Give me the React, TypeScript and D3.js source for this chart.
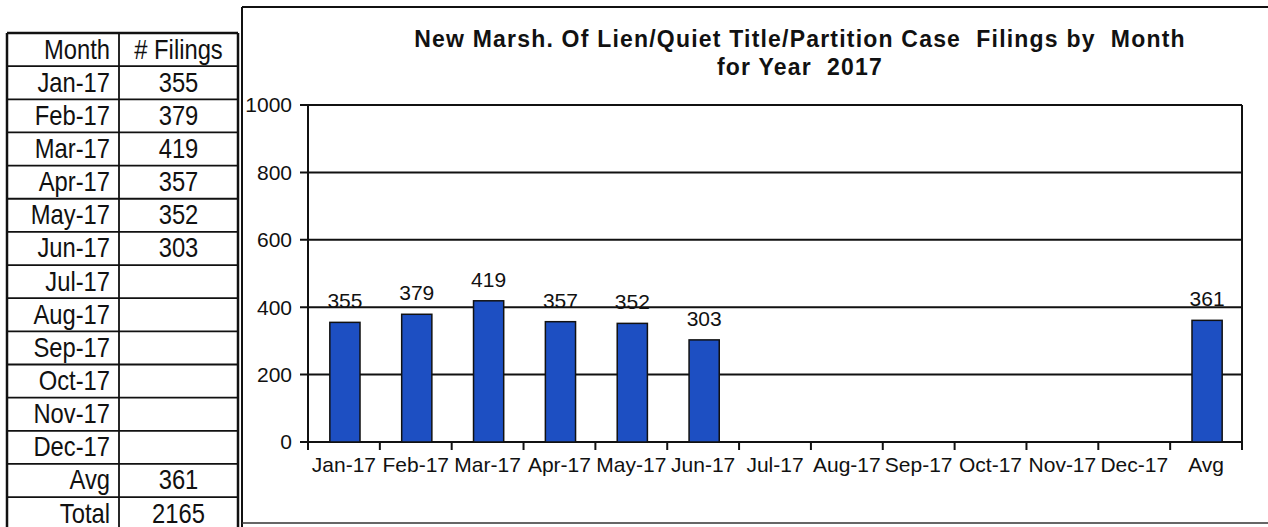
import React from "react";
import * as d3 from "d3";

// table + chart data
const months = ["Jan-17", "Feb-17", "Mar-17", "Apr-17", "May-17", "Jun-17", "Jul-17", "Aug-17", "Sep-17", "Oct-17", "Nov-17", "Dec-17"];
const filings: (number | null)[] = [355, 379, 419, 357, 352, 303, null, null, null, null, null, null];
const avgLabel = "Avg";
const avgValue = 361;
const totalLabel = "Total";
const totalValue = 2165;
const yTicks = [0, 200, 400, 600, 800, 1000];
const titleLines = ["New Marsh. Of Lien/Quiet Title/Partition Case  Filings by  Month", "for Year  2017"];

const W = 1268;
const H = 527;
const FONT = "'Liberation Sans', Arial, sans-serif";
const BAR = "#1d4fc2";

// narrow text (the scan is squeezed a bit horizontally in the table)
const SqText = ({ x, y, anchor, children }: { x: number; y: number; anchor: string; children: React.ReactNode }) => (
  <text transform={`translate(${x},${y}) scale(0.88,1)`} fontSize={27} textAnchor={anchor} fill="#111">
    {children}
  </text>
);

const App = () => {
  const categories = [...months, avgLabel];
  const values = [...filings, avgValue];

  const plot = { left: 308, right: 1242, top: 105, bottom: 442 };

  const x = d3.scaleBand<string>().domain(categories).range([plot.left, plot.right]).padding(0);
  const y = d3.scaleLinear().domain([0, 1000]).range([plot.bottom, plot.top]);
  const barW = x.bandwidth() * 0.42;

  // table layout
  const tableRows = [
    { m: "Month", v: "# Filings" },
    ...months.map((m, i) => ({ m, v: filings[i] == null ? "" : String(filings[i]) })),
    { m: avgLabel, v: String(avgValue) },
    { m: totalLabel, v: String(totalValue) },
  ];
  const rowY = d3.scaleLinear().domain([0, 1]).range([33, 66.15]);
  const tLeft = 7, tMid = 119, tRight = 238;

  return (
    <svg width={W} height={H} style={{ position: "absolute", left: 0, top: 0, background: "#fff" }} fontFamily={FONT}>
      <rect x={0} y={0} width={W} height={H} fill="#fff" />

      {/* table */}
      <g>
        {tableRows.map((r, i) => (
          <g key={i}>
            <line x1={tLeft} x2={tRight} y1={rowY(i)} y2={rowY(i)} stroke="#111" strokeWidth={i === 0 ? 2.5 : 1.8} />
            <SqText x={110} y={rowY(i) + 25.5} anchor="end">{r.m}</SqText>
            <SqText x={(tMid + tRight) / 2} y={rowY(i) + 25.5} anchor="middle">{r.v}</SqText>
          </g>
        ))}
        <line x1={tLeft} x2={tLeft} y1={rowY(0)} y2={H} stroke="#111" strokeWidth={2.5} />
        <line x1={tMid} x2={tMid} y1={rowY(0)} y2={H} stroke="#111" strokeWidth={1.8} />
        <line x1={tRight} x2={tRight} y1={rowY(0)} y2={H} stroke="#111" strokeWidth={2.5} />
      </g>

      {/* chart frame */}
      <line x1={242} x2={W} y1={7} y2={7} stroke="#111" strokeWidth={2} />
      <line x1={242} x2={242} y1={7} y2={H} stroke="#111" strokeWidth={2} />
      <line x1={242} x2={W} y1={523} y2={523} stroke="#333" strokeWidth={1.5} />

      {/* title */}
      {titleLines.map((t, i) => (
        <text
          key={i}
          x={800}
          y={47 + i * 28}
          fontSize={23}
          fontWeight="bold"
          letterSpacing={1.2}
          textAnchor="middle"
          fill="#111"
          style={{ whiteSpace: "pre" }}
        >
          {t}
        </text>
      ))}

      {/* gridlines + y axis */}
      {yTicks.map((t) => (
        <g key={t}>
          <line x1={plot.left - 8} x2={plot.right} y1={y(t)} y2={y(t)} stroke="#111" strokeWidth={2} />
          <text x={292} y={y(t)} dy="0.35em" fontSize={21} textAnchor="end" fill="#111">{t}</text>
        </g>
      ))}
      <line x1={plot.left} x2={plot.left} y1={plot.top} y2={plot.bottom + 8} stroke="#111" strokeWidth={2} />
      <line x1={plot.right} x2={plot.right} y1={plot.top} y2={plot.bottom + 8} stroke="#111" strokeWidth={2} />

      {/* x ticks */}
      {categories.map((c) => (
        <g key={c}>
          <line x1={x(c)!} x2={x(c)!} y1={plot.bottom} y2={plot.bottom + 8} stroke="#111" strokeWidth={2} />
          <text x={x(c)! + x.bandwidth() / 2} y={472} fontSize={21} textAnchor="middle" fill="#111">{c}</text>
        </g>
      ))}

      {/* bars */}
      {categories.map((c, i) => {
        const v = values[i];
        if (v == null) return null;
        const cx = x(c)! + x.bandwidth() / 2 + 1;
        return (
          <g key={c}>
            <rect x={cx - barW / 2} y={y(v)} width={barW} height={y(0) - y(v)} fill={BAR} stroke="#111" strokeWidth={1.5} />
            <text x={cx} y={y(v) - 14} fontSize={21} textAnchor="middle" fill="#111">{v}</text>
          </g>
        );
      })}
    </svg>
  );
};

export default App;
